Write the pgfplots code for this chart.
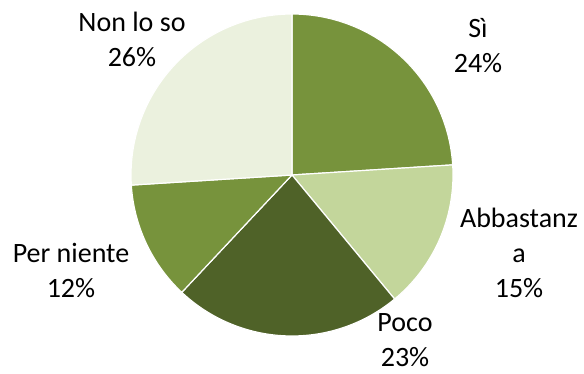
\documentclass[border=0pt]{standalone}
\usepackage{fontspec}
\setmainfont{Carlito}
\usepackage{pgfplots}
\pgfplotsset{compat=1.18}
\definecolor{cSi}{HTML}{77933C}
\definecolor{cAbb}{HTML}{C3D69B}
\definecolor{cPoco}{HTML}{4F6228}
\definecolor{cPer}{HTML}{77933C}
\definecolor{cNon}{HTML}{EBF1DE}
% percentages
\def\pSi{24}\def\pAbb{15}\def\pPoco{23}\def\pPer{12}\def\pNon{26}
\pgfmathsetmacro\aA{90}
\pgfmathsetmacro\aB{90-3.6*\pSi}
\pgfmathsetmacro\aC{\aB-3.6*\pAbb}
\pgfmathsetmacro\aD{\aC-3.6*\pPoco}
\pgfmathsetmacro\aE{\aD-3.6*\pPer}
\pgfmathsetmacro\aF{\aE-3.6*\pNon}
\newcommand\slice[3]{%
  \addplot[fill=#3, draw=white, line width=0.6pt, domain=#2:#1, samples=90, variable=\t]
    ({292+161*cos(t)},{199+161*sin(t)}) -- (axis cs:292,199) -- cycle;}
\tikzset{lbl/.style={font=\fontsize{14}{17.5}\selectfont, align=center, text=black, inner sep=0pt}}
\begin{document}
\begin{tikzpicture}
\begin{axis}[x=0.5pt,y=0.5pt,xmin=0,xmax=584,ymin=0,ymax=374,hide axis,clip=false]
\addplot[draw=none] coordinates {(0,0) (584,374)};
\slice{\aA}{\aB}{cSi}
\slice{\aB}{\aC}{cAbb}
\slice{\aC}{\aD}{cPoco}
\slice{\aD}{\aE}{cPer}
\slice{\aE}{\aF}{cNon}
\node[lbl] at (axis cs:478,328) {Sì\\24\%};
\node[lbl] at (axis cs:519,121) {Abbastanz\\a\\15\%};
\node[lbl] at (axis cs:405,34) {Poco\\23\%};
\node[lbl] at (axis cs:71,104) {Per niente\\12\%};
\node[lbl] at (axis cs:132,335) {Non lo so\\26\%};
\end{axis}
\end{tikzpicture}
\end{document}
